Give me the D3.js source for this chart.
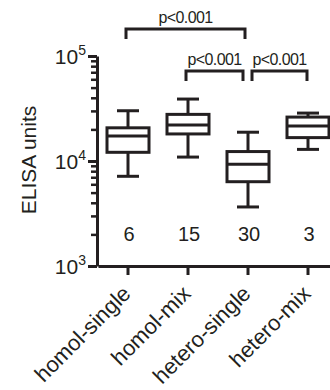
<!DOCTYPE html>
<html>
<head>
<meta charset="utf-8">
<script src="https://cdn.jsdelivr.net/npm/d3@7"></script>
<style>
    body { margin: 0; background: white; }
    svg { display: block; font-family: "Liberation Sans", Arial, sans-serif; }
</style>
</head>
<body>
<div id="chart"></div>
<script>
// groups and box-plot summaries (ELISA units)
var categories = ["homol-single", "homol-mix", "hetero-single", "hetero-mix"];
var whiskerLow = [7150, 10900, 3650, 12900];
var q1 = [12100, 18100, 6350, 16700];
var medians = [17300, 22000, 9300, 21500];
var q3 = [20700, 27800, 12300, 26200];
var whiskerHigh = [30100, 38900, 18800, 28600];
var counts = [6, 15, 30, 3];

// significance brackets
var compFrom = [0, 1, 2];
var compTo = [2, 2, 3];
var compLabel = ["p<0.001", "p<0.001", "p<0.001"];

var yTicks = [1e3, 1e4, 1e5];
var yTickExp = ["3", "4", "5"];

function drawChart() {
    const width = 330;
    const height = 390;
    const ink = "#231f20";

    const svg = d3.create("svg")
        .attr("width", width)
        .attr("height", height);

    const x = d3.scaleBand()
        .domain(categories)
        .range([98, 338])
        .paddingInner(0.3)
        .paddingOuter(0.15);

    const y = d3.scaleLog()
        .domain([1e3, 1e5])
        .range([266, 56]);

    const cx = i => x(categories[i]) + x.bandwidth() / 2;

    // minor ticks
    const minorTicks = y.ticks().filter(v => yTicks.indexOf(v) < 0);
    const minorAxis = svg.append("g")
        .attr("transform", "translate(97,0)")
        .call(d3.axisLeft(y).tickValues(minorTicks).tickSize(6).tickFormat(""));
    minorAxis.select(".domain").remove();
    minorAxis.selectAll("line").attr("stroke", ink).attr("stroke-width", 2.5);

    // major ticks + axis line
    const majorAxis = svg.append("g")
        .attr("transform", "translate(97,0)")
        .call(d3.axisLeft(y).tickValues(yTicks).tickSize(9).tickSizeOuter(0).tickFormat(""));
    majorAxis.select(".domain").attr("stroke", ink).attr("stroke-width", 3);
    majorAxis.selectAll("line").attr("stroke", ink).attr("stroke-width", 3);

    // tick labels 10^n
    const lab = svg.append("g")
        .selectAll("text")
        .data(yTicks)
        .enter().append("text")
        .attr("x", 86)
        .attr("y", d => y(d) + 8)
        .attr("text-anchor", "end")
        .attr("font-size", 21)
        .attr("fill", ink);
    lab.append("tspan").text("10");
    lab.append("tspan")
        .attr("font-size", 14)
        .attr("dy", -9)
        .text((d, i) => yTickExp[i]);

    // y label
    svg.append("text")
        .attr("transform", "translate(36,160) rotate(-90)")
        .attr("text-anchor", "middle")
        .attr("font-size", 21)
        .attr("fill", ink)
        .text("ELISA units");

    // x axis
    const xAxis = svg.append("g")
        .attr("transform", "translate(0,266)")
        .call(d3.axisBottom(x).tickSize(9).tickSizeOuter(0).tickFormat(""));
    xAxis.select(".domain").attr("stroke", ink).attr("stroke-width", 3);
    xAxis.selectAll("line").attr("stroke", ink).attr("stroke-width", 3);

    svg.append("g")
        .selectAll("text")
        .data(categories)
        .enter().append("text")
        .attr("transform", (d, i) => `translate(${cx(i) + 4},${295}) rotate(-45)`)
        .attr("text-anchor", "end")
        .attr("font-size", 22)
        .attr("fill", ink)
        .text(d => d);

    // boxes
    const boxes = svg.append("g")
        .attr("stroke", ink)
        .attr("stroke-width", 3)
        .attr("fill", "none");
    const capHalf = 11;

    categories.forEach(function (c, i) {
        const g = boxes.append("g");
        g.append("line")
            .attr("x1", cx(i)).attr("x2", cx(i))
            .attr("y1", y(whiskerHigh[i])).attr("y2", y(q3[i]));
        g.append("line")
            .attr("x1", cx(i)).attr("x2", cx(i))
            .attr("y1", y(q1[i])).attr("y2", y(whiskerLow[i]));
        g.append("line")
            .attr("x1", cx(i) - capHalf).attr("x2", cx(i) + capHalf)
            .attr("y1", y(whiskerHigh[i])).attr("y2", y(whiskerHigh[i]));
        g.append("line")
            .attr("x1", cx(i) - capHalf).attr("x2", cx(i) + capHalf)
            .attr("y1", y(whiskerLow[i])).attr("y2", y(whiskerLow[i]));
        g.append("rect")
            .attr("x", x(c))
            .attr("y", y(q3[i]))
            .attr("width", x.bandwidth())
            .attr("height", y(q1[i]) - y(q3[i]))
            .attr("fill", "white");
        g.append("line")
            .attr("x1", x(c)).attr("x2", x(c) + x.bandwidth())
            .attr("y1", y(medians[i])).attr("y2", y(medians[i]));
    });

    // group sizes
    svg.append("g")
        .selectAll("text")
        .data(counts)
        .enter().append("text")
        .attr("x", (d, i) => cx(i) + 1)
        .attr("y", 241)
        .attr("text-anchor", "middle")
        .attr("font-size", 20)
        .attr("fill", ink)
        .text(d => d);

    // brackets
    const tierY = [29, 71];
    const tier = [0, 1, 1];
    const inset = [[-2, 3], [-2, 5], [4, 1]];
    compFrom.forEach(function (f, k) {
        const x1 = cx(f) + inset[k][0];
        const x2 = cx(compTo[k]) - inset[k][1];
        const yy = tierY[tier[k]];
        svg.append("path")
            .attr("d", `M${x1},${yy + 10}V${yy}H${x2}V${yy + 10}`)
            .attr("fill", "none")
            .attr("stroke", ink)
            .attr("stroke-width", 3);
        svg.append("text")
            .attr("x", (x1 + x2) / 2)
            .attr("y", yy - 6)
            .attr("text-anchor", "middle")
            .attr("font-size", 16)
            .attr("letter-spacing", -0.6)
            .attr("fill", ink)
            .text(compLabel[k]);
    });

    d3.select("#chart").node().append(svg.node());
}

drawChart();
</script>
</body>
</html>
